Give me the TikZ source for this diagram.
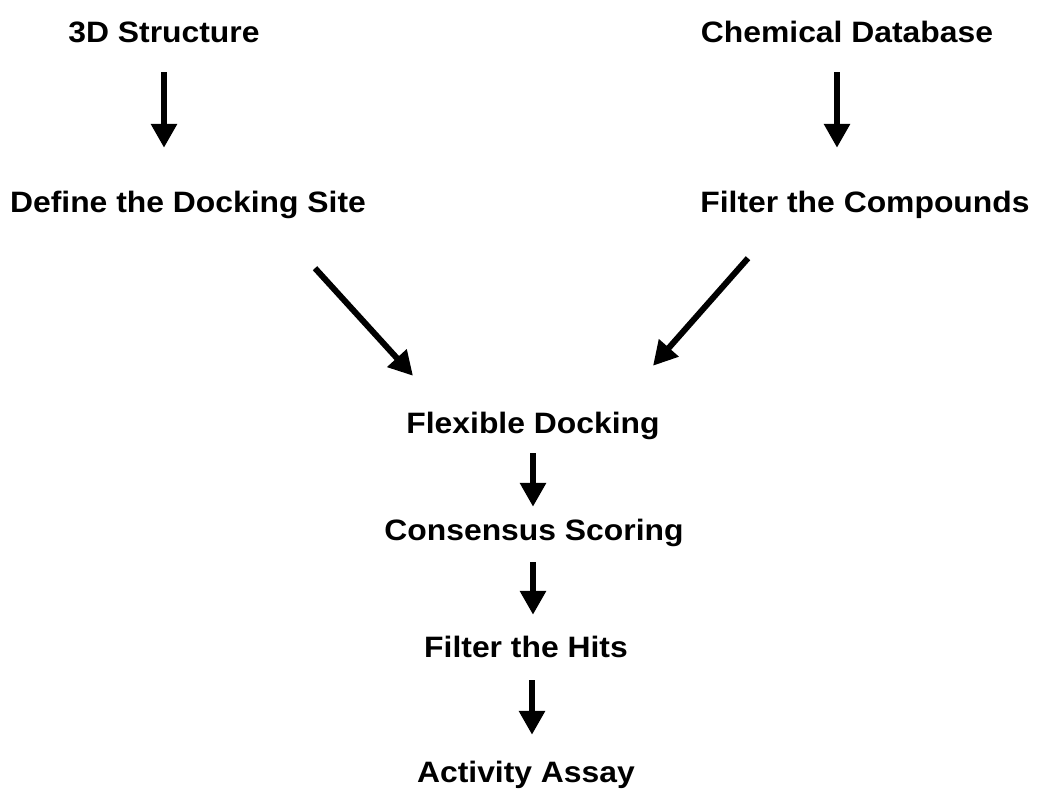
\documentclass[tikz,border=0pt]{standalone}
\usepackage{fontspec}
\setmainfont{Liberation Sans}[FakeStretch=1.08]
\usetikzlibrary{arrows.meta}
\begin{document}
\begin{tikzpicture}[x=1pt,y=-1pt,
  lbl/.style={anchor=base,inner sep=0pt,text height=22pt,text depth=6pt,
    font=\fontsize{29.5}{34}\selectfont\bfseries},
  arr/.style={line width=6pt,-{Triangle[width=25pt,length=24pt]}}]
\useasboundingbox[fill=white] (0,0) rectangle (1039,794);
\node[lbl] (s3d) at (164,43) {3D Structure};
\node[lbl] (chem) at (847,43) {Chemical Database};
\node[lbl] (define) at (188,213) {Define the Docking Site};
\node[lbl] (fcomp) at (865,213) {Filter the Compounds};
\node[lbl] (flex) at (533,433) {Flexible Docking};
\node[lbl] (cons) at (534,540) {Consensus Scoring};
\node[lbl] (fhits) at (526,657) {Filter the Hits};
\node[lbl] (assay) at (526,782) {Activity Assay};
\draw[arr] ([shift={(0,23)}]s3d.south) -- ([shift={(-24,-43)}]define.north);
\draw[arr] ([shift={(-10,23)}]chem.south) -- ([shift={(-28,-43)}]fcomp.north);
\draw[arr] ([shift={(127,49)}]define.south) -- ([shift={(-120,-35)}]flex.north);
\draw[arr] ([shift={(-117,39)}]fcomp.south) -- ([shift={(120,-45)}]flex.north);
\draw[arr] ([shift={(0,14)}]flex.south) -- ([shift={(-1,-11)}]cons.north);
\draw[arr] ([shift={(-1,16)}]cons.south) -- ([shift={(7,-20)}]fhits.north);
\draw[arr] ([shift={(6,17)}]fhits.south) -- ([shift={(6,-25)}]assay.north);
\end{tikzpicture}
\end{document}
